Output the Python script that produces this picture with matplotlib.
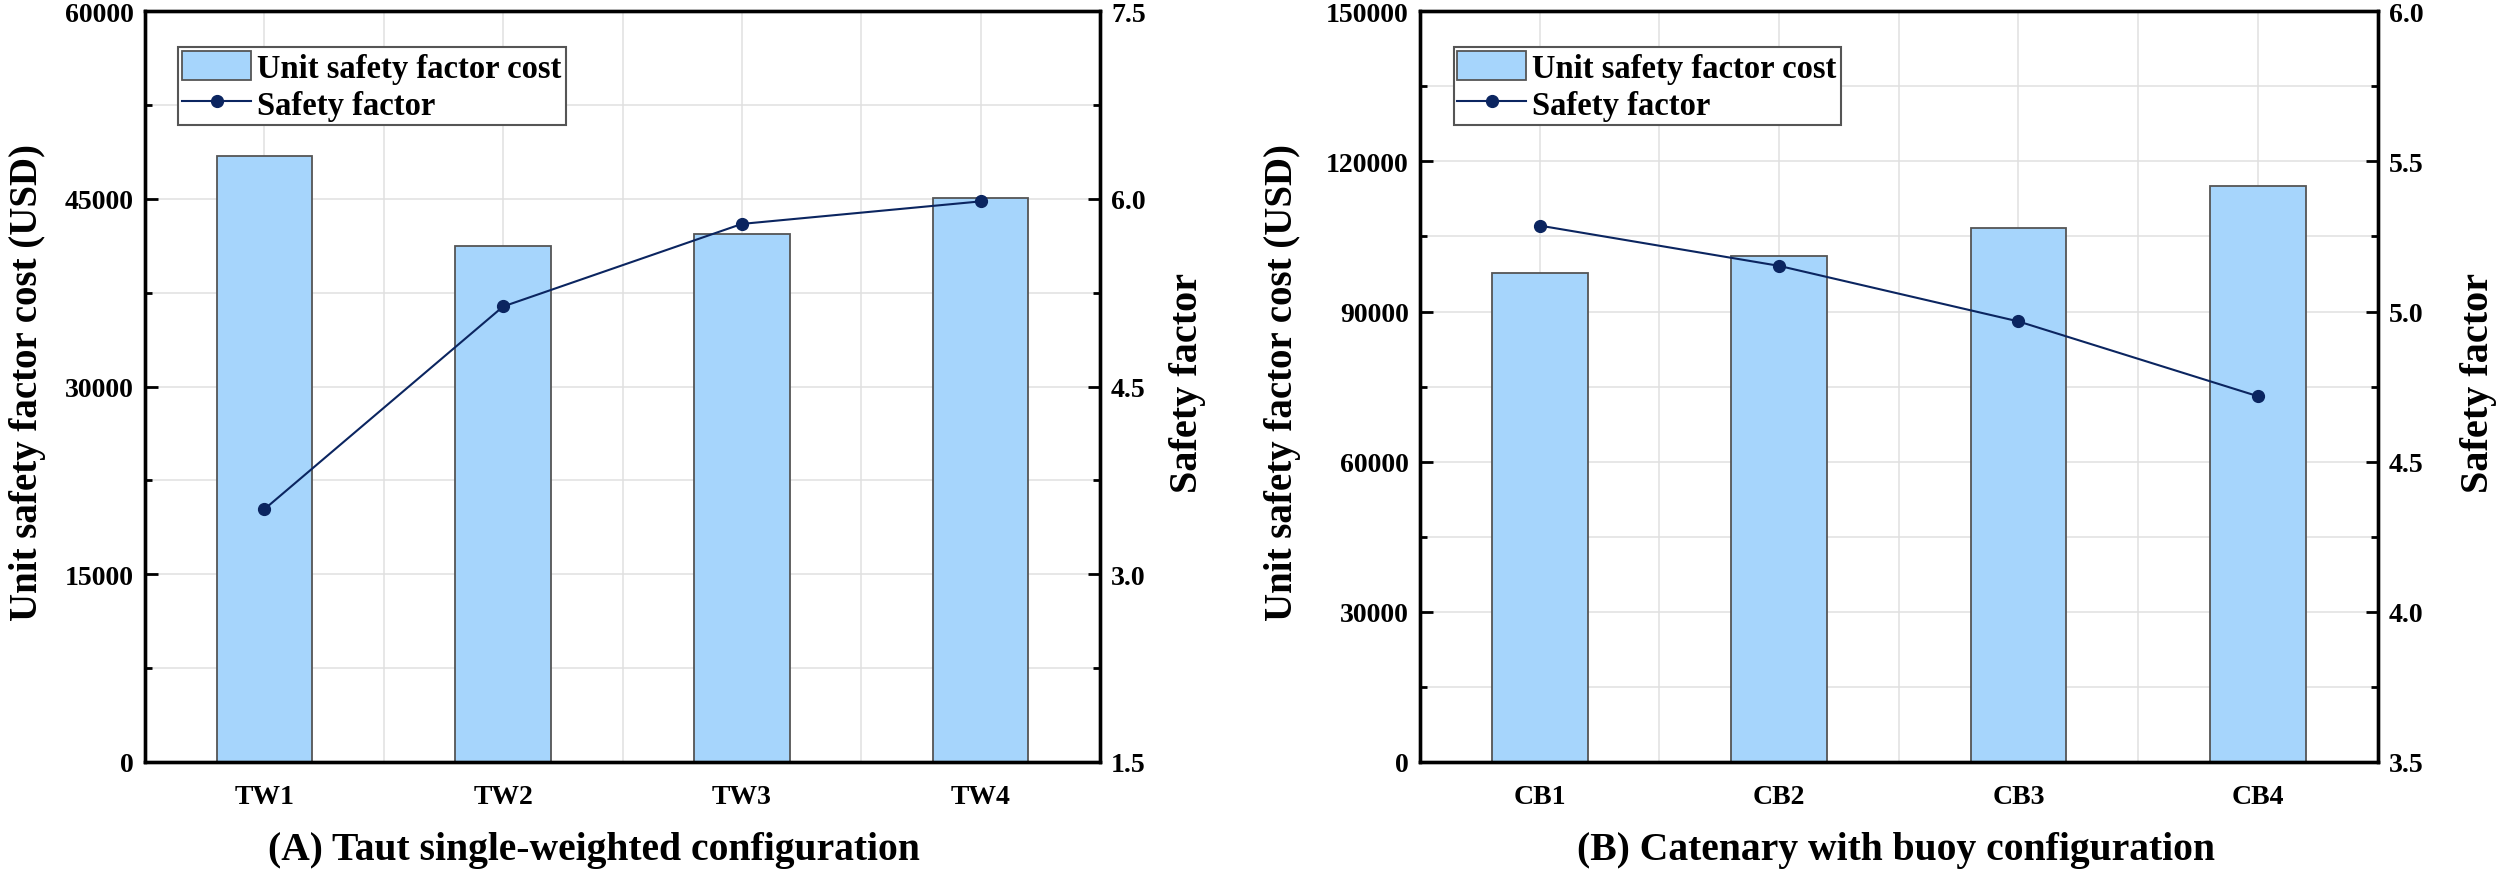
import matplotlib
matplotlib.use("Agg")
import matplotlib.pyplot as plt
from matplotlib.ticker import MultipleLocator, FixedLocator
from matplotlib.lines import Line2D
from matplotlib.patches import Patch

plt.rcParams['font.family'] = ['Liberation Serif', 'DejaVu Serif']
plt.rcParams['font.weight'] = 'bold'

# ---- data ----
tw_labels = ["TW1", "TW2", "TW3", "TW4"]
tw_cost = [48400, 41200, 42200, 45100]
tw_sf = [3.52, 5.14, 5.80, 5.98]

cb_labels = ["CB1", "CB2", "CB3", "CB4"]
cb_cost = [97600, 101000, 106600, 115000]
cb_sf = [5.286, 5.152, 4.967, 4.718]

titles = ["(A) Taut single-weighted configuration", "(B) Catenary with buoy configuration"]
ylab_left = "Unit safety factor cost (USD)"
ylab_right = "Safety factor"
leg_bar = "Unit safety factor cost"
leg_line = "Safety factor"

BAR_COLOR = "#A6D5FC"
BAR_EDGE = "#555555"
LINE_COLOR = "#0B2560"
GRID_COLOR = "#E0E0E0"

fig = plt.figure(figsize=(25, 8.7), dpi=100)

panels = [
    dict(rect=[0.058, 0.123, 0.382, 0.863], labels=tw_labels, cost=tw_cost, sf=tw_sf,
         ylim=(0, 60000), ymaj=15000, ymin=7500, y2lim=(1.5, 7.5), y2maj=1.5, y2min=0.75,
         title=titles[0], tx=0.2375, ylx=0.011, y2lx=0.475),
    dict(rect=[0.568, 0.123, 0.383, 0.863], labels=cb_labels, cost=cb_cost, sf=cb_sf,
         ylim=(0, 150000), ymaj=30000, ymin=15000, y2lim=(3.5, 6.0), y2maj=0.5, y2min=0.25,
         title=titles[1], tx=0.7585, ylx=0.513, y2lx=0.9915),
]

for p in panels:
    ax = fig.add_axes(p["rect"])
    x = list(range(len(p["labels"])))
    ax.bar(x, p["cost"], width=0.4, color=BAR_COLOR, edgecolor=BAR_EDGE, linewidth=1.3, zorder=2)
    ax.set_xlim(-0.5, 3.5)
    ax.set_ylim(*p["ylim"])
    ax.yaxis.set_major_locator(MultipleLocator(p["ymaj"]))
    ax.yaxis.set_minor_locator(MultipleLocator(p["ymin"]))
    ax.xaxis.set_major_locator(FixedLocator(x))
    ax.xaxis.set_minor_locator(FixedLocator([v + 0.5 for v in x[:-1]]))
    ax.set_xticklabels(p["labels"])
    ax.grid(True, which="both", color=GRID_COLOR, linewidth=1.1, zorder=0)
    ax.set_axisbelow(True)
    ax.tick_params(axis="y", which="major", direction="in", length=9, width=2, labelsize=20, pad=8)
    ax.tick_params(axis="y", which="minor", direction="in", length=5, width=2)
    ax.tick_params(axis="x", which="major", direction="in", length=9, width=2, labelsize=20, pad=16)
    ax.tick_params(axis="x", which="minor", length=0)
    for s in ax.spines.values():
        s.set_linewidth(2.4)

    ax2 = ax.twinx()
    ax2.plot(x, p["sf"], color=LINE_COLOR, linewidth=1.5, marker="o", markersize=8.5, zorder=3)
    ax2.set_ylim(*p["y2lim"])
    ax2.yaxis.set_major_locator(MultipleLocator(p["y2maj"]))
    ax2.yaxis.set_minor_locator(MultipleLocator(p["y2min"]))
    ax2.yaxis.set_major_formatter(lambda v, pos: "{:.1f}".format(v))
    ax2.tick_params(axis="y", which="major", direction="in", length=9, width=2, labelsize=20, pad=8)
    ax2.tick_params(axis="y", which="minor", direction="in", length=5, width=2)
    for s in ax2.spines.values():
        s.set_linewidth(2.4)

    fig.text(p["ylx"], 0.56, ylab_left, rotation=90, ha="center", va="center", fontsize=28, fontweight="bold")
    fig.text(p["y2lx"], 0.56, ylab_right, rotation=90, ha="center", va="center", fontsize=29, fontweight="bold")
    fig.text(p["tx"], 0.022, p["title"], ha="center", va="center", fontsize=28.5, fontweight="bold")

    handles = [Patch(facecolor=BAR_COLOR, edgecolor=BAR_EDGE, linewidth=1.3),
               Line2D([], [], color=LINE_COLOR, linewidth=1.5, marker="o", markersize=8.5)]
    leg = ax2.legend(handles, [leg_bar, leg_line], loc="upper left", bbox_to_anchor=(0.035, 0.952),
                     fontsize=23.5, frameon=True, fancybox=False, edgecolor="#555555", framealpha=1,
                     handlelength=2.1, handleheight=1.0, handletextpad=0.2, labelspacing=0.12,
                     borderpad=0.12, borderaxespad=0)
    leg.get_frame().set_linewidth(1.5)

fig.savefig("out.png", dpi=100)
